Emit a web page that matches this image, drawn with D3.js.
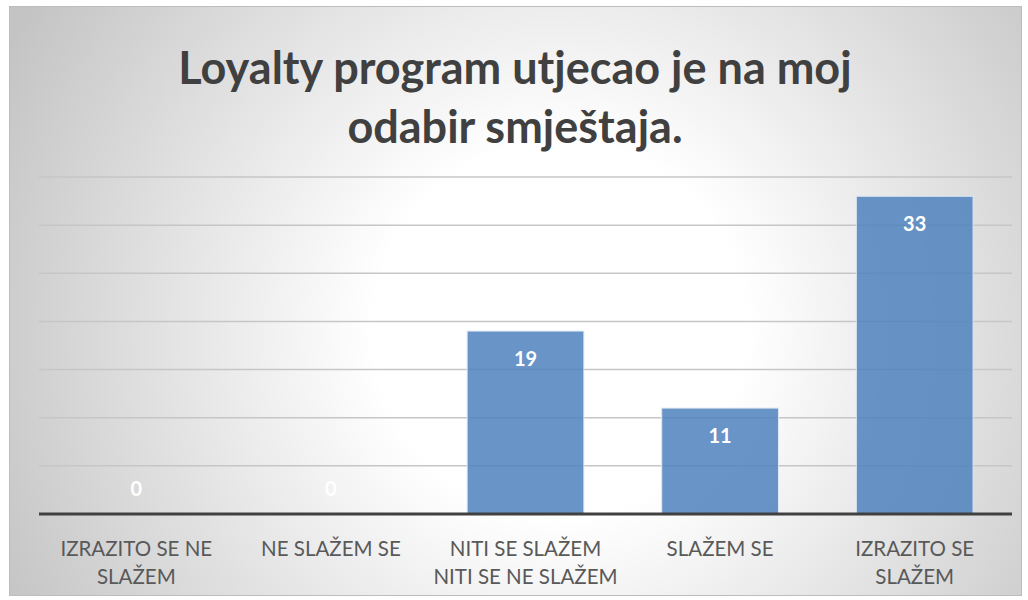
<!DOCTYPE html>
<html><head><meta charset="utf-8">
<script src="https://cdn.jsdelivr.net/npm/d3@7"></script>
<style>html,body{margin:0;padding:0;background:#fff;}svg{display:block;}</style>
</head><body>
<script>
const categories = [["IZRAZITO SE NE","SLAŽEM"],["NE SLAŽEM SE"],["NITI SE SLAŽEM","NITI SE NE SLAŽEM"],["SLAŽEM SE"],["IZRAZITO SE","SLAŽEM"]];
const values = [0,0,19,11,33];
const yTicks = [0,5,10,15,20,25,30,35];
const titleLines = ["Loyalty program utjecao je na moj","odabir smještaja."];

(function(){
const W=1028,H=600;
const svg=d3.select("body").append("svg").attr("width",W).attr("height",H);
const defs=svg.append("defs");
const rg=defs.append("radialGradient").attr("id","bg").attr("gradientUnits","userSpaceOnUse")
  .attr("cx",560).attr("cy",330).attr("r",620);
rg.append("stop").attr("offset","0.3").attr("stop-color","#ffffff");
rg.append("stop").attr("offset","1").attr("stop-color","#c4c4c4");

svg.append("rect").attr("x",9.5).attr("y",6.5).attr("width",1012).attr("height",589)
  .attr("fill","url(#bg)").attr("stroke","#bdbdbd").attr("stroke-width",1);

const pl=39,pr=1012,pt=177,pb=514;
const x=d3.scaleBand().domain(d3.range(categories.length)).range([pl,pr]).paddingInner(0.4).paddingOuter(0.2);
const y=d3.scaleLinear().domain([0,35]).range([pb,pt]);

svg.append("g").selectAll("line").data(yTicks.filter(d=>d>0)).join("line")
  .attr("x1",pl).attr("x2",pr).attr("y1",d=>y(d)).attr("y2",d=>y(d))
  .attr("stroke","#c6c6c6").attr("stroke-width",1.5);

svg.append("g").selectAll("rect").data(values).join("rect")
  .attr("x",(d,i)=>x(i)).attr("width",x.bandwidth())
  .attr("y",d=>y(d)).attr("height",d=>y(0)-y(d))
  .attr("fill","#4f81bd").attr("fill-opacity",0.85)
  .attr("stroke","#dfe8f3").attr("stroke-width",1);

const xAxis=d3.axisBottom(x).tickSize(0).tickFormat("");
const ax=svg.append("g").attr("transform",`translate(0,${pb})`).call(xAxis);
ax.select(".domain").attr("stroke","#404040").attr("stroke-width",3).attr("d",`M${pl},0H${pr}`);

const lab=svg.append("g").attr("font-family","Lato, 'Open Sans', sans-serif").attr("font-size",20.5).attr("fill","#595959").attr("text-anchor","middle");
categories.forEach((c,i)=>{
  const t=lab.append("text").attr("x",x(i)+x.bandwidth()/2).attr("y",556);
  c.forEach((s,j)=>t.append("tspan").attr("x",x(i)+x.bandwidth()/2).attr("dy",j?28:0).text(s));
});

svg.append("g").selectAll("text").data(values).join("text")
  .attr("x",(d,i)=>x(i)+x.bandwidth()/2)
  .attr("text-anchor","middle").attr("font-family","Lato, sans-serif").attr("font-weight","bold")
  .attr("font-size",20).attr("fill","#ffffff").text(d=>d)
  .attr("y",d=>d===0? y(0)-18 : y(d)+35);

const tt=svg.append("text").attr("text-anchor","middle").attr("font-family","Lato, sans-serif")
  .attr("font-weight","bold").attr("font-size",45).attr("fill","#404040");
titleLines.forEach((s,i)=>tt.append("tspan").attr("x",515).attr("y",i?143:84).text(s));
})();
</script>
</body></html>
